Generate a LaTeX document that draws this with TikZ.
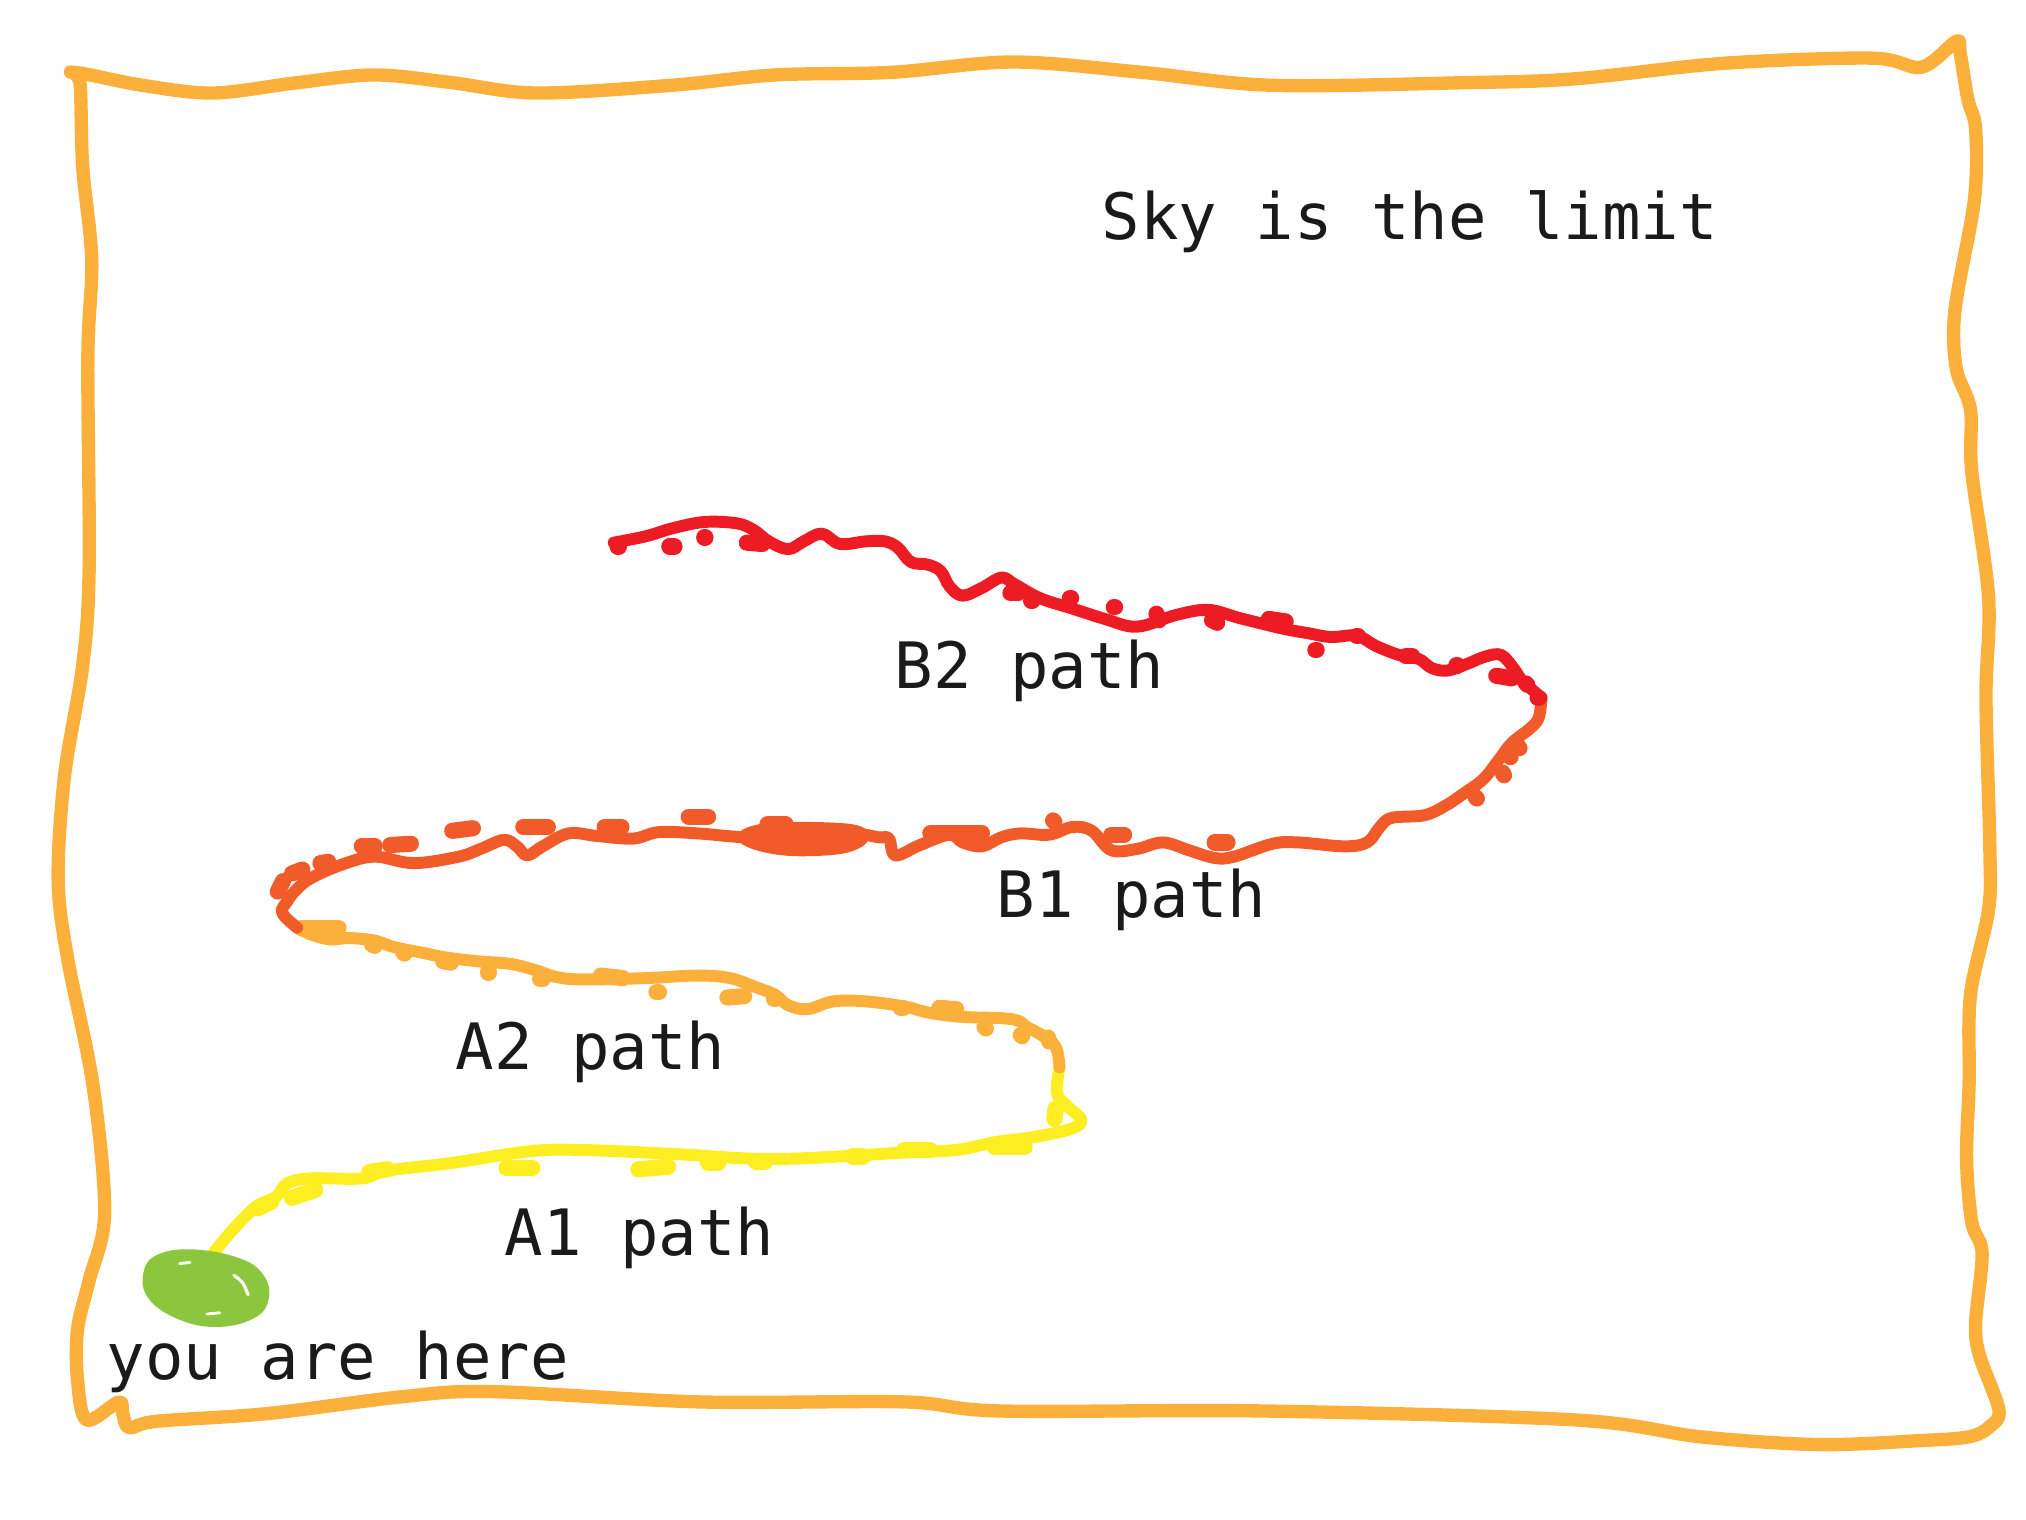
\documentclass[tikz,border=0pt]{standalone}
\usepackage{fontspec}
\newfontfamily\handmono{DejaVu Sans Mono}
\definecolor{framec}{HTML}{FBB03B}
\definecolor{yelc}{HTML}{FCEE21}
\definecolor{a2c}{HTML}{FBB03B}
\definecolor{b1c}{HTML}{F15A29}
\definecolor{b2c}{HTML}{ED1C24}
\definecolor{blobc}{HTML}{8CC63F}
\definecolor{ink}{HTML}{1A1A1A}
\tikzset{
  pen/.style={line width=3.4pt, line cap=round, line join=round},
  framepen/.style={line width=3.8pt, line cap=round, line join=round, draw=framec},
  smudge/.style={line width=4.6pt, line cap=round},
  lbl/.style={font=\handmono\fontsize{18.2}{22}\selectfont, text=ink, anchor=base west, inner sep=0pt}
}
\begin{document}
\begin{tikzpicture}[x=0.012921cm,y=-0.012921cm]
\useasboundingbox (0,0) rectangle (1568,1176);
% frame
\draw[framepen] plot[smooth cycle, tension=0.55] coordinates {
(57,56) (110,66) (165,72) (230,64) (290,58) (350,64) (415,72) (520,66) (600,58) (690,56) (784,48) (884,56) (984,66) (1134,64) (1219,61) (1334,49) (1449,45) (1487,52) (1514,32) (1517,41) (1523,77) (1529,100) (1528,155) (1513,240) (1514,285) (1525,317) (1526,365) (1539,462) (1537,540) (1540,656) (1539,704) (1525,770) (1524,837) (1522,897) (1526,946) (1534,970) (1529,1024) (1532,1049) (1547,1091) (1540,1104) (1524,1112) (1485,1115) (1407,1118) (1316,1112) (1220,1099) (977,1092) (774,1092) (700,1085) (542,1085) (380,1077) (311,1081) (207,1094) (121,1100) (100,1105) (95,1094) (92,1085) (67,1099) (60,1068) (60,1029) (69,991) (81,939) (72,840) (52,740) (45,680) (50,600) (64,515) (69,440) (68,277) (71,201) (64,129) (62,65)};
% A1 path (yellow)
\draw[pen, draw=yelc] plot[smooth, tension=0.6] coordinates {(165,970) (180,952) (198,934) (214,926) (222,916) (240,912) (280,912) (300,906) (350,900) (410,891) (450,890) (520,893) (600,897) (700,892) (740,890) (770,884) (800,880) (828,874) (837,867) (826,856) (818,846) (820,826)};
\foreach \a/\b in {{(226,927)}/{(244,921)},{(200,935)}/{(210,930)},{(286,907)}/{(300,905)},{(392,904)}/{(412,904)},{(494,905)}/{(517,903)},{(548,900)}/{(556,900)},{(585,899)}/{(592,899)},{(660,895)}/{(668,895)},{(700,890)}/{(720,890)},{(770,888)}/{(793,888)},{(816,866)}/{(817,858)}}
  \draw[smudge, draw=yelc] \a -- \b;
% A2 path (orange)
\draw[pen, draw=a2c] plot[smooth, tension=0.6] coordinates {(820,826) (817,810) (806,801) (795,795) (788,790) (775,788) (745,787) (720,784) (700,779) (670,775) (645,775) (625,781) (610,778) (600,770) (585,764) (565,757) (540,755) (500,757) (450,758) (430,756) (415,751) (395,746) (370,744) (345,741) (325,737) (305,733) (290,728) (270,726) (255,727) (240,723) (230,718)};
\foreach \a/\b in {{(233,718)}/{(262,718)},{(288,731)}/{(290,732)},{(312,737)}/{(313,738)},{(343,744)}/{(349,745)},{(378,752)}/{(378,753)},{(418,758)}/{(420,758)},{(465,755)}/{(482,757)},{(508,768)}/{(510,768)},{(563,772)}/{(576,771)},{(599,773)}/{(600,773)},{(697,780)}/{(699,780)},{(727,780)}/{(740,781)},{(762,795)}/{(763,796)},{(790,801)}/{(791,802)},{(811,803)}/{(812,806)}}
  \draw[smudge, draw=a2c] \a -- \b;
% B1 path (orange-red)
\draw[pen, draw=b1c] plot[smooth, tension=0.6] coordinates {(230,718) (222,711) (218,705) (222,698) (228,690) (240,680) (265,669) (290,663) (320,668) (355,663) (372,657) (390,650) (400,655) (408,662) (420,655) (440,645) (462,647) (490,649) (510,644) (540,645) (580,648) (620,645) (660,645) (680,648) (688,649) (693,662) (712,654) (735,646) (745,652) (760,655) (775,648) (790,645) (812,646) (830,640) (845,643) (860,658) (880,657) (900,652) (920,658) (940,664) (955,663) (985,653) (1005,652) (1040,655) (1058,652) (1068,640) (1077,633) (1102,631) (1118,624) (1133,614) (1148,603) (1160,588) (1170,575) (1185,563) (1191,555) (1193,540)};
\filldraw[pen, draw=b1c, fill=b1c] plot[smooth cycle, tension=0.6] coordinates {(576,647) (600,641) (655,642) (668,648) (652,656) (615,658) (588,654)};
\foreach \a/\b in {{(215,690)}/{(219,682)},{(226,676)}/{(234,673)},{(248,668)}/{(254,667)},{(280,655)}/{(290,655)},{(302,654)}/{(318,653)},{(350,643)}/{(366,641)},{(405,640)}/{(424,640)},{(468,640)}/{(481,640)},{(533,632)}/{(548,632)},{(594,638)}/{(608,638)},{(720,645)}/{(760,645)},{(815,635)}/{(816,636)},{(860,646)}/{(870,646)},{(940,652)}/{(950,652)},{(1142,617)}/{(1143,618)},{(1163,598)}/{(1164,600)},{(1168,585)}/{(1169,586)},{(1175,578)}/{(1176,579)}}
  \draw[smudge, draw=b1c] \a -- \b;
% B2 path (red)
\draw[pen, draw=b2c] plot[smooth, tension=0.6] coordinates {(1193,540) (1186,534) (1178,527) (1172,518) (1162,507) (1150,508) (1135,514) (1120,519) (1108,517) (1098,510) (1083,507) (1065,500) (1050,492) (1030,493) (1012,490) (995,487) (978,483) (958,478) (935,472) (910,476) (880,485) (855,479) (830,471) (805,463) (785,452) (775,447) (760,455) (745,461) (735,454) (728,442) (718,437) (705,435) (695,424) (685,419) (670,419) (650,421) (636,413) (622,419) (610,425) (595,419) (583,410) (570,405) (545,404) (520,409) (500,415) (475,420)};
\foreach \a/\b in {{(478,423)}/{(479,423)},{(518,423)}/{(522,423)},{(545,416)}/{(546,416)},{(578,420)}/{(590,421)},{(782,459)}/{(788,459)},{(798,465)}/{(799,465)},{(828,463)}/{(829,463)},{(862,470)}/{(863,470)},{(895,475)}/{(897,480)},{(938,480)}/{(942,482)},{(982,479)}/{(995,481)},{(1018,503)}/{(1019,503)},{(1050,492)}/{(1051,492)},{(1088,508)}/{(1093,508)},{(1127,515)}/{(1128,515)},{(1158,523)}/{(1170,525)},{(1181,529)}/{(1182,530)},{(1190,540)}/{(1191,540)}}
  \draw[smudge, draw=b2c] \a -- \b;
% you-are-here blob
\fill[blobc] plot[smooth cycle, tension=0.7] coordinates {(111,985) (122,971) (150,967) (186,974) (204,987) (208,1005) (197,1020) (168,1027) (138,1021) (115,1005)};
\draw[white, line width=0.8pt, line cap=round] (139,978) -- (147,977);
\draw[white, line width=0.9pt, line cap=round] (181,987) .. controls (188,992) .. (192,1002);
\draw[white, line width=0.8pt, line cap=round] (160,1017) -- (170,1016);
% labels
\node[lbl] (sky) at (852,185) {Sky is the limit};
\node[lbl] (b2) at (692,533) {B2 path};
\node[lbl] (b1) at (771,710) {B1 path};
\node[lbl] (a2) at (352,828) {A2 path};
\node[lbl] (a1) at (390,972) {A1 path};
\node[lbl] (here) at (82,1068) {you are here};
\end{tikzpicture}
\end{document}
